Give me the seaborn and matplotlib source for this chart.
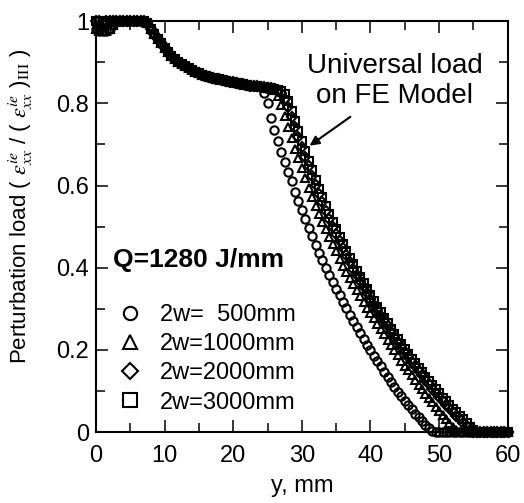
import matplotlib
matplotlib.use('Agg')
import matplotlib.pyplot as plt
import matplotlib.ticker as mticker
import seaborn as sns
import numpy as np

sns.set_theme(style='ticks')
plt.rcParams['font.family'] = ['Liberation Sans', 'DejaVu Sans']
plt.rcParams['mathtext.fontset'] = 'stix'
plt.rcParams['text.color'] = 'black'
plt.rcParams['axes.labelcolor'] = 'black'

# distance from weld line, 0.5 mm steps
y_mm = np.arange(0, 60.01, 0.5)

# 0 .. 2.5 mm
head_low = [0.98, 0.975, 0.975, 0.977, 0.98, 0.99]
head_high = [1.0, 1.0, 0.995, 1.0, 1.0, 1.0]

# 3.0 .. 24.0 mm, common to all widths
plateau = [1.0, 1.0, 1.0, 1.0, 1.0, 1.0, 1.0, 1.0, 1.0,
           0.995, 0.982, 0.968, 0.957, 0.946, 0.935, 0.925, 0.916, 0.908, 0.901,
           0.895, 0.89, 0.885, 0.881, 0.877, 0.873, 0.87, 0.867, 0.864, 0.862,
           0.86, 0.858, 0.856, 0.854, 0.852, 0.851, 0.849, 0.848, 0.846, 0.845,
           0.843, 0.842, 0.841, 0.84]

# 24.5 .. 60 mm
tail_500 = [0.825, 0.80, 0.765, 0.735, 0.708, 0.682, 0.658, 0.634, 0.61, 0.585,
            0.562, 0.54, 0.518, 0.497, 0.476, 0.455, 0.436, 0.418, 0.40, 0.383,
            0.366, 0.349, 0.333, 0.317, 0.301, 0.286, 0.271, 0.256, 0.241, 0.227,
            0.213, 0.199, 0.186, 0.173, 0.16, 0.147, 0.134, 0.122, 0.11, 0.098,
            0.087, 0.076, 0.065, 0.055, 0.045, 0.036, 0.027, 0.018, 0.01, 0.003] + [0.0] * 22
tail_1000 = [0.839, 0.838, 0.836, 0.832, 0.818, 0.795, 0.768, 0.742, 0.716, 0.69,
             0.666, 0.642, 0.618, 0.594, 0.572, 0.55, 0.531, 0.512, 0.493, 0.474,
             0.457, 0.44, 0.422, 0.405, 0.39, 0.375, 0.36, 0.345, 0.331, 0.317,
             0.303, 0.29, 0.277, 0.264, 0.251, 0.238, 0.225, 0.212, 0.199, 0.187,
             0.174, 0.162, 0.15, 0.138, 0.126, 0.115, 0.104, 0.093, 0.082, 0.072,
             0.062, 0.052, 0.042, 0.033, 0.023, 0.013, 0.005, 0.0] + [0.0] * 14
tail_2000 = [0.839, 0.838, 0.837, 0.834, 0.83, 0.824, 0.81, 0.79, 0.767, 0.743,
             0.718, 0.694, 0.67, 0.647, 0.624, 0.602, 0.58, 0.559, 0.539, 0.519,
             0.5, 0.482, 0.464, 0.447, 0.43, 0.414, 0.398, 0.383, 0.368, 0.353,
             0.338, 0.324, 0.31, 0.296, 0.283, 0.27, 0.257, 0.244, 0.231, 0.219,
             0.207, 0.195, 0.183, 0.171, 0.16, 0.149, 0.138, 0.127, 0.116, 0.106,
             0.096, 0.086, 0.076, 0.067, 0.058, 0.049, 0.04, 0.031, 0.022, 0.014,
             0.006, 0.0] + [0.0] * 10
tail_3000 = [0.839, 0.838, 0.837, 0.835, 0.833, 0.83, 0.822, 0.805, 0.782, 0.758,
             0.733, 0.708, 0.684, 0.66, 0.637, 0.614, 0.592, 0.571, 0.55, 0.53,
             0.511, 0.493, 0.475, 0.458, 0.441, 0.424, 0.408, 0.392, 0.377, 0.362,
             0.347, 0.333, 0.319, 0.305, 0.291, 0.278, 0.265, 0.252, 0.239, 0.227,
             0.215, 0.203, 0.191, 0.179, 0.168, 0.157, 0.146, 0.135, 0.124, 0.114,
             0.104, 0.094, 0.084, 0.075, 0.066, 0.057, 0.048, 0.04, 0.031, 0.022,
             0.013, 0.005, 0.0] + [0.0] * 9

labels = ['2w=  500mm', '2w=1000mm', '2w=2000mm', '2w=3000mm']
markers = ['o', '^', 'D', 's']
series = [head_low + plateau + tail_500,
          head_low + plateau + tail_1000,
          head_high + plateau + tail_2000,
          head_high + plateau + tail_3000]

fig = plt.figure(figsize=(5.24, 5.03), dpi=100)
ax = fig.add_axes([0.183, 0.141, 0.786, 0.817])

for vals, m, lab in zip(series, markers, labels):
    ms = 6 if m != 'D' else 5
    sns.lineplot(x=y_mm, y=np.array(vals), ax=ax, marker=m, linestyle='', color='black',
                 mfc='none', mec='black', ms=ms, mew=1.5, estimator=None, sort=False,
                 label=lab, legend=False, clip_on=False)

ax.set_xlim(0, 60)
ax.set_ylim(0, 1)
ax.xaxis.set_major_locator(mticker.MultipleLocator(10))
ax.xaxis.set_minor_locator(mticker.MultipleLocator(5))
ax.yaxis.set_major_locator(mticker.MultipleLocator(0.2))
ax.yaxis.set_minor_locator(mticker.MultipleLocator(0.1))
ax.yaxis.set_major_formatter(mticker.FuncFormatter(lambda v, p: '%g' % round(v, 2)))
ax.tick_params(which='both', direction='in', top=True, right=True, color='black',
               labelsize=17, labelcolor='black')
ax.tick_params(which='major', length=8.5, width=1.1)
ax.tick_params(which='minor', length=6.5, width=1.1)
ax.tick_params(axis='x', pad=9)
ax.tick_params(axis='y', pad=5)
for sp in ax.spines.values():
    sp.set_linewidth(1.5)
    sp.set_color('black')

ax.set_xlabel('y, mm', fontsize=17, color='black', labelpad=6)
ax.set_ylabel(r'Perturbation load ( $\varepsilon^{ie}_{xx}$ / ( $\varepsilon^{ie}_{xx}$ )$_{\rm III}$ )',
              fontsize=16, color='black')
ax.yaxis.set_label_coords(-0.148, 0.55)

ax.text(2.5, 0.418, 'Q=1280 J/mm', fontsize=19, fontweight='bold', ha='left', va='center',
        color='black')
ax.text(43.5, 0.854, 'Universal load\non FE Model', fontsize=20, ha='center', va='center',
        linespacing=1.2, color='black')
ax.annotate('', xy=(30.8, 0.693), xytext=(37.4, 0.771),
            arrowprops=dict(arrowstyle='-|>', color='black', lw=1.5, mutation_scale=14))

handles = [l for l in ax.get_lines() if not l.get_label().startswith('_')]
leg = ax.legend(handles=handles, labels=labels, loc='upper left', bbox_to_anchor=(0.053, 0.311),
                frameon=False, fontsize=17, handlelength=1.0, handletextpad=0.78,
                labelspacing=0.3, borderpad=0, borderaxespad=0, markerscale=1.6,
                labelcolor='black')

fig.savefig('out.png', dpi=100)
